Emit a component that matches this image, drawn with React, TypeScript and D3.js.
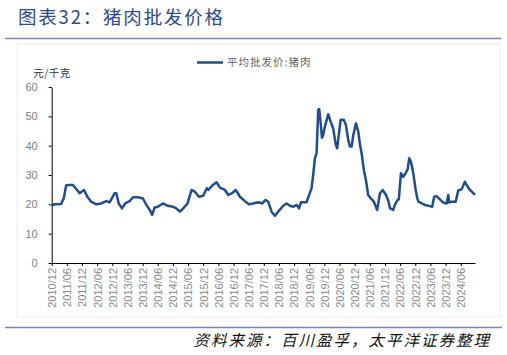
import React, { useEffect, useRef } from "react";
import * as d3 from "d3";

const dates: string[] = [
  "2010-12-01","2010-12-28","2011-03-25","2011-04-27","2011-05-24","2011-06-22","2011-08-14","2011-09-23",
  "2011-11-03","2011-12-25","2012-02-04","2012-03-21","2012-05-21","2012-07-20","2012-09-19","2012-10-30",
  "2012-12-29","2013-01-18","2013-02-16","2013-03-27","2013-05-05","2013-06-27","2013-08-07","2013-10-06",
  "2013-12-05","2014-01-15","2014-02-25","2014-03-26","2014-04-24","2014-06-03","2014-08-03","2014-10-02",
  "2014-12-01","2015-01-11","2015-02-25","2015-04-04","2015-05-27","2015-07-14","2015-08-23","2015-10-11",
  "2015-12-02","2016-01-13","2016-02-01","2016-03-19","2016-05-11","2016-06-20","2016-08-20","2016-09-29",
  "2016-11-16","2016-12-27","2017-02-17","2017-04-17","2017-06-04","2017-07-26","2017-09-25","2017-11-13",
  "2017-12-23","2018-01-24","2018-03-05","2018-04-14","2018-05-23","2018-07-23","2018-09-03","2018-10-12",
  "2018-11-21","2019-01-02","2019-01-29","2019-02-22","2019-04-30","2019-06-01","2019-06-30","2019-07-19",
  "2019-08-09","2019-08-29","2019-09-18","2019-09-30","2019-10-16","2019-11-02","2019-11-17","2019-12-07",
  "2020-01-17","2020-02-15","2020-03-16","2020-04-18","2020-05-03","2020-05-28","2020-06-14","2020-07-23",
  "2020-08-17","2020-09-14","2020-10-04","2020-10-25","2020-11-14","2020-12-16","2021-01-13","2021-02-03",
  "2021-02-22","2021-03-21","2021-04-15","2021-05-12","2021-06-11","2021-07-20","2021-08-29","2021-10-01",
  "2021-11-03","2021-12-13","2022-01-10","2022-01-31","2022-03-10","2022-03-30","2022-05-02","2022-05-17",
  "2022-06-11","2022-07-09","2022-08-07","2022-08-31","2022-09-19","2022-10-10","2022-11-07","2022-12-06",
  "2022-12-25","2023-01-07","2023-02-17","2023-03-27","2023-05-26","2023-06-23","2023-07-17","2023-08-15",
  "2023-09-24","2023-11-03","2023-12-14","2024-01-03","2024-01-15","2024-02-13","2024-04-01","2024-05-02",
  "2024-06-12","2024-07-21","2024-08-11","2024-09-20","2024-10-30","2024-11-20"
];

const porkPrice: number[] = [
  19.5,20.0,20.1,22.2,26.4,26.6,26.6,25.2,
  23.8,24.9,22.6,20.9,20.0,20.3,21.1,20.7,
  23.8,23.8,20.3,18.6,20.3,21.1,22.4,22.4,
  22.0,19.8,18.1,16.4,18.9,19.2,20.3,19.5,
  19.2,18.6,17.5,18.6,20.3,24.9,24.3,22.6,
  22.9,25.5,24.9,26.4,27.5,25.7,24.9,23.2,
  23.8,24.9,22.6,21.1,20.0,20.3,20.7,20.3,
  21.5,20.9,17.5,16.1,17.5,19.5,20.3,19.5,
  19.2,19.8,18.6,20.7,20.7,23.2,25.5,30.0,
  35.7,37.4,52.2,52.5,48.2,42.7,43.6,46.5,
  50.7,48.2,45.9,40.2,39.1,44.8,48.8,48.8,
  47.0,41.9,39.7,39.7,43.6,47.6,44.8,40.2,
  37.4,31.7,28.3,23.2,22.1,20.9,18.1,23.8,
  24.9,23.2,21.2,18.6,18.1,19.8,21.5,21.7,
  30.6,29.4,30.6,31.9,35.7,34.5,30.6,24.9,
  22.1,20.9,20.3,19.8,19.4,19.2,22.6,22.8,
  21.7,20.6,20.3,23.2,20.6,20.9,20.9,24.7,
  25.1,27.7,26.6,24.9,23.8,23.2
];

const xTickLabels: string[] = [
  "2010/12","2011/06","2011/12","2012/06","2012/12","2013/06","2013/12","2014/06","2014/12",
  "2015/06","2015/12","2016/06","2016/12","2017/06","2017/12","2018/06","2018/12","2019/06",
  "2019/12","2020/06","2020/12","2021/06","2021/12","2022/06","2022/12","2023/06","2023/12","2024/06"
];
const yTicks: number[] = [0, 10, 20, 30, 40, 50, 60];

const seriesName = "平均批发价:猪肉";
const unitLabel = "元/千克";
const titleText = "图表32：猪肉批发价格";
const sourceText = "资料来源：百川盈孚，太平洋证券整理";

export default function App() {
  const ref = useRef<SVGSVGElement | null>(null);

  useEffect(() => {
    const svg = d3.select(ref.current);
    svg.selectAll("*").remove();
    const parse = d3.timeParse("%Y-%m-%d");
    const parseTick = d3.timeParse("%Y/%m");
    const data = dates.map((d, i) => ({ date: parse(d) as Date, value: porkPrice[i] }));

    const left = 51.7, right = 475, top = 87, bottom = 263;
    const x = d3.scaleTime()
      .domain([parse("2010-12-01") as Date, parse("2024-11-20") as Date])
      .range([left, right]);
    const y = d3.scaleLinear().domain([0, 60]).range([bottom, top]);

    const font = "'Liberation Sans', Arial, sans-serif";
    const cjk = "'Noto Sans CJK SC', sans-serif";

    // faint chart frame
    svg.append("rect").attr("x", 17).attr("y", 44).attr("width", 483).attr("height", 273)
      .attr("fill", "none").attr("stroke", "#ececec").attr("stroke-width", 1);

    // title
    svg.append("text").attr("x", 18).attr("y", 24).text(titleText)
      .attr("font-family", cjk).attr("font-size", 18.5).attr("letter-spacing", 1.8)
      .attr("fill", "#2F4A8A");
    svg.append("line").attr("x1", 5).attr("x2", 501).attr("y1", 38.5).attr("y2", 38.5)
      .attr("stroke", "#7C83BF").attr("stroke-width", 1.5);

    // bottom rule and source
    svg.append("line").attr("x1", 5).attr("x2", 502).attr("y1", 327.5).attr("y2", 327.5)
      .attr("stroke", "#7C83BF").attr("stroke-width", 1.5);
    svg.append("text").attr("x", 491).attr("y", 346).attr("text-anchor", "end").text(sourceText)
      .attr("font-family", cjk).attr("font-size", 15.5).attr("font-style", "italic")
      .attr("letter-spacing", 2).attr("fill", "#111");

    // legend
    svg.append("line").attr("x1", 197).attr("x2", 223).attr("y1", 62.5).attr("y2", 62.5)
      .attr("stroke", "#1F4E8A").attr("stroke-width", 2.5);
    svg.append("text").attr("x", 227).attr("y", 66).text(seriesName)
      .attr("font-family", cjk).attr("font-size", 10.5).attr("letter-spacing", 1)
      .attr("fill", "#666");

    // unit
    svg.append("text").attr("x", 52).attr("y", 77).attr("text-anchor", "middle").text(unitLabel)
      .attr("font-family", cjk).attr("font-size", 10.5).attr("letter-spacing", 0.5).attr("fill", "#333");

    // y axis
    const yAxis = svg.append("g").attr("transform", `translate(${left},0)`)
      .call(d3.axisLeft(y).tickValues(yTicks).tickSize(3).tickPadding(11).tickSizeOuter(0));
    yAxis.select(".domain").attr("stroke", "#000");
    yAxis.selectAll(".tick line").attr("stroke", "#000");
    yAxis.selectAll("text").attr("font-family", font).attr("font-size", 11).attr("fill", "#808080");

    // x axis
    const tickDates = xTickLabels.map(t => parseTick(t) as Date);
    const xAxis = svg.append("g").attr("transform", `translate(0,${bottom})`)
      .call(d3.axisBottom(x).tickValues(tickDates).tickSize(3).tickSizeOuter(0)
        .tickFormat((d, i) => xTickLabels[i]));
    xAxis.select(".domain").attr("stroke", "#000");
    xAxis.selectAll(".tick line").attr("stroke", "#000");
    xAxis.selectAll("text")
      .attr("font-family", font).attr("font-size", 11).attr("fill", "#8a8a8a")
      .attr("text-anchor", "end")
      .attr("transform", "rotate(-90)")
      .attr("x", -5).attr("y", 0).attr("dy", "0.35em");

    // line
    const line = d3.line<{ date: Date; value: number }>()
      .x(d => x(d.date)).y(d => y(d.value));
    svg.append("path").datum(data).attr("d", line)
      .attr("fill", "none").attr("stroke", "#1F4E8A").attr("stroke-width", 2.5)
      .attr("stroke-linejoin", "round");
  }, []);

  return <svg ref={ref} width={507} height={355} style={{ display: "block", position: "absolute", left: 0, top: 0 }} />;
}
